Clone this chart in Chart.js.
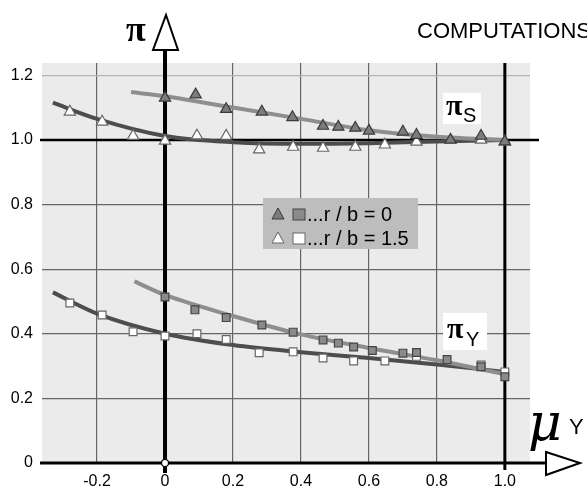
<!DOCTYPE html>
<html>
<head>
<meta charset="utf-8">
<script src="https://cdn.jsdelivr.net/npm/chart.js@4"></script>
<style>
  body { margin: 0; background: #fff; }
  #wrap { width: 587px; height: 491px; }
</style>
</head>
<body>
<div id="wrap"><canvas id="c" width="587" height="491"></canvas></div>
<script>
// tick values
const xTicks = [-0.2, 0, 0.2, 0.4, 0.6, 0.8, 1.0];
const yTicks = [0, 0.2, 0.4, 0.6, 0.8, 1.0, 1.2];

// pi_S, r/b = 0 (filled triangles)
const sX0 = [0, 0.09, 0.18, 0.285, 0.375, 0.465, 0.51, 0.56, 0.6, 0.7, 0.74, 0.84, 0.93, 1.0];
const sY0 = [1.13, 1.14, 1.095, 1.087, 1.07, 1.043, 1.04, 1.037, 1.028, 1.025, 1.015, 1.0, 1.012, 0.995];
// pi_S, r/b = 1.5 (open triangles)
const sX15 = [-0.28, -0.185, -0.094, 0, 0.094, 0.18, 0.277, 0.377, 0.465, 0.56, 0.647, 0.74, 0.93, 1.0];
const sY15 = [1.087, 1.056, 1.012, 0.997, 1.013, 1.012, 0.97, 0.978, 0.975, 0.978, 0.985, 0.994, 1.0, 0.994];
// pi_Y, r/b = 0 (filled squares)
const yX0 = [0, 0.088, 0.18, 0.285, 0.377, 0.465, 0.51, 0.555, 0.61, 0.7, 0.74, 0.83, 0.93, 1.0];
const yY0 = [0.514, 0.474, 0.45, 0.427, 0.405, 0.381, 0.371, 0.359, 0.348, 0.34, 0.342, 0.32, 0.298, 0.267];
// pi_Y, r/b = 1.5 (open squares)
const yX15 = [-0.28, -0.185, -0.094, 0, 0.094, 0.18, 0.277, 0.377, 0.465, 0.555, 0.647, 0.74, 0.93, 1.0];
const yY15 = [0.495, 0.458, 0.406, 0.393, 0.4, 0.382, 0.341, 0.344, 0.325, 0.316, 0.316, 0.33, 0.303, 0.282];

// fitted curves
const fitSX0 = [-0.1, 0, 0.2, 0.4, 0.6, 0.8, 1.0];
const fitSY0 = [1.148, 1.135, 1.10, 1.065, 1.03, 1.01, 1.0];
const fitSX15 = [-0.33, -0.2, 0, 0.2, 0.4, 0.6, 0.8, 1.0];
const fitSY15 = [1.115, 1.065, 1.012, 0.993, 0.988, 0.99, 0.995, 1.0];
const fitYX0 = [-0.09, 0, 0.2, 0.4, 0.6, 0.8, 1.0];
const fitYY0 = [0.562, 0.52, 0.455, 0.398, 0.356, 0.318, 0.275];
const fitYX15 = [-0.33, -0.2, 0, 0.2, 0.4, 0.6, 0.8, 1.0];
const fitYY15 = [0.528, 0.462, 0.40, 0.365, 0.343, 0.325, 0.305, 0.282];

const pts = (xs, ys) => xs.map((x, i) => ({ x: x, y: ys[i] }));

const LIGHT = '#8e8e8e';
const DARK = '#4d4d4d';

function markers(label, xs, ys, style, fill, border) {
  return {
    label: label, data: pts(xs, ys), showLine: false,
    pointStyle: style, pointRadius: style === 'triangle' ? 6.5 : 5.5,
    pointBackgroundColor: fill, pointBorderColor: border, pointBorderWidth: 1.2,
    order: 1
  };
}
function curve(label, xs, ys, color) {
  return {
    label: label, data: pts(xs, ys), showLine: true, pointRadius: 0,
    borderColor: color, borderWidth: 4, cubicInterpolationMode: 'monotone',
    order: 2
  };
}

const decor = {
  id: 'decor',
  beforeDraw(chart) {
    const a = chart.chartArea, c = chart.ctx;
    c.save();
    c.fillStyle = '#ebebeb';
    c.fillRect(a.left, a.top, a.right - a.left, a.bottom - a.top);
    c.restore();
  },
  beforeDatasetsDraw(chart) {
    const c = chart.ctx, xs = chart.scales.x, ys = chart.scales.y;
    const x0 = xs.getPixelForValue(0), x1 = xs.getPixelForValue(1);
    const y0 = ys.getPixelForValue(0), y1 = ys.getPixelForValue(1);
    c.save();
    c.strokeStyle = '#000';
    // y = 1.0 line
    c.lineWidth = 2.5;
    c.beginPath(); c.moveTo(40, y1); c.lineTo(539, y1); c.stroke();
    // x = 1.0 line
    c.lineWidth = 3;
    c.beginPath(); c.moveTo(x1, chart.chartArea.top); c.lineTo(x1, y0 + 7); c.stroke();
    // main axes
    c.lineWidth = 3;
    c.beginPath(); c.moveTo(40, y0); c.lineTo(547, y0); c.stroke();
    c.lineWidth = 4;
    c.beginPath(); c.moveTo(x0, 48); c.lineTo(x0, y0 + 10); c.stroke();
    c.restore();
  },
  afterDatasetsDraw(chart) {
    const c = chart.ctx, xs = chart.scales.x, ys = chart.scales.y;
    const x0 = xs.getPixelForValue(0), y0 = ys.getPixelForValue(0);
    c.save();
    // arrows
    c.fillStyle = '#fff'; c.strokeStyle = '#000'; c.lineWidth = 2;
    c.beginPath(); c.moveTo(x0 + 1, 15); c.lineTo(x0 + 13, 50); c.lineTo(x0 - 12, 50); c.closePath();
    c.fill(); c.stroke();
    c.beginPath(); c.moveTo(546, y0 - 11); c.lineTo(580, y0); c.lineTo(546, y0 + 12); c.closePath();
    c.fill(); c.stroke();
    // origin dot
    c.lineWidth = 1.2;
    c.beginPath(); c.arc(x0, y0, 3.5, 0, Math.PI * 2); c.fill(); c.stroke();

    // axis titles
    c.fillStyle = '#000';
    c.font = 'bold 36px "Liberation Serif"';
    c.fillText('π', 126, 41);
    c.font = '22px "Liberation Sans"';
    c.fillText('COMPUTATIONS', 417, 38);
    c.font = 'italic 52px "DejaVu Serif"';
    c.fillText('μ', 528, 440);
    c.font = '22px "Liberation Sans"';
    c.fillText('Y', 569, 434);

    // curve labels
    c.fillStyle = '#fff';
    c.fillRect(443, 93, 38, 31);
    c.fillRect(443, 313, 44, 37);
    c.fillStyle = '#000';
    c.font = 'bold 30px "Liberation Serif"';
    c.fillText('π', 446, 115);
    c.fillText('π', 447, 338);
    c.font = '20px "Liberation Sans"';
    c.fillText('S', 463, 122);
    c.fillText('Y', 466, 346);

    // legend
    c.fillStyle = '#bdbdbd';
    c.fillRect(263, 198, 155, 51);
    const rows = [
      { y: 214, tri: chart.data.datasets[0], sq: chart.data.datasets[2], text: '...r / b = 0' },
      { y: 238, tri: chart.data.datasets[1], sq: chart.data.datasets[3], text: '...r / b = 1.5' }
    ];
    rows.forEach(r => {
      c.fillStyle = r.tri.pointBackgroundColor; c.strokeStyle = r.tri.pointBorderColor; c.lineWidth = 1;
      c.beginPath(); c.moveTo(278, r.y - 6); c.lineTo(284, r.y + 5); c.lineTo(272, r.y + 5); c.closePath();
      c.fill(); c.stroke();
      c.fillStyle = r.sq.pointBackgroundColor; c.strokeStyle = r.sq.pointBorderColor;
      c.fillRect(293, r.y - 5, 12, 11); c.strokeRect(293, r.y - 5, 12, 11);
      c.fillStyle = '#000';
      c.font = '20px "Liberation Sans"';
      c.textBaseline = 'middle';
      c.fillText(r.text, 307, r.y + 1);
      c.textBaseline = 'alphabetic';
    });
    c.restore();
  }
};

new Chart(document.getElementById('c'), {
  type: 'scatter',
  data: {
    datasets: [
      markers('πS r/b=0', sX0, sY0, 'triangle', '#7c7c7c', '#3a3a3a'),
      markers('πS r/b=1.5', sX15, sY15, 'triangle', '#ffffff', '#666666'),
      markers('πY r/b=0', yX0, yY0, 'rect', '#8a8a8a', '#444444'),
      markers('πY r/b=1.5', yX15, yY15, 'rect', '#ffffff', '#666666'),
      curve('fit πS r/b=0', fitSX0, fitSY0, LIGHT),
      curve('fit πS r/b=1.5', fitSX15, fitSY15, DARK),
      curve('fit πY r/b=0', fitYX0, fitYY0, LIGHT),
      curve('fit πY r/b=1.5', fitYX15, fitYY15, DARK)
    ]
  },
  options: {
    responsive: false,
    animation: false,
    layout: { padding: { top: 63, right: 57, left: 0, bottom: 0 } },
    plugins: { legend: { display: false }, tooltip: { enabled: false } },
    scales: {
      x: {
        type: 'linear', min: -0.362, max: 1.074,
        afterBuildTicks: s => { s.ticks = xTicks.map(v => ({ value: v })); },
        afterFit: s => { s.height = 28; },
        border: { display: false },
        grid: { color: '#666', lineWidth: 1.2, drawTicks: false },
        ticks: {
          padding: 9, color: '#000',
          font: { family: 'Liberation Sans', size: 16 },
          callback: v => v === 0 ? '0' : v.toFixed(1)
        }
      },
      y: {
        type: 'linear', min: 0, max: 1.238,
        afterBuildTicks: s => { s.ticks = yTicks.map(v => ({ value: v })); },
        afterFit: s => { s.width = 42; },
        border: { display: false },
        grid: {
          color: c => (c.tick && Math.abs(c.tick.value - 1.2) < 1e-6) ? '#b5b5b5' : '#666',
          lineWidth: 1.2, drawTicks: false
        },
        ticks: {
          padding: 9, color: '#000',
          font: { family: 'Liberation Sans', size: 16 },
          callback: v => v === 0 ? '0' : v.toFixed(1)
        }
      }
    }
  },
  plugins: [decor]
});
</script>
</body>
</html>
